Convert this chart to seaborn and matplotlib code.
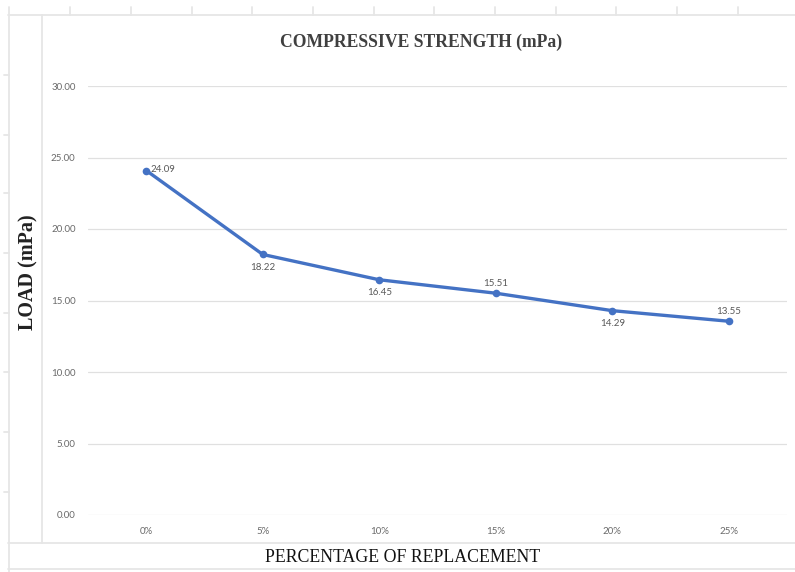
import matplotlib
matplotlib.use("Agg")
import matplotlib.pyplot as plt
from matplotlib.lines import Line2D
import seaborn as sns
import pandas as pd

# Data
replacement = ["0%", "5%", "10%", "15%", "20%", "25%"]
strength = [24.09, 18.22, 16.45, 15.51, 14.29, 13.55]
label_side = ["right", "below", "below", "above", "below", "above"]
y_ticks = [0, 5, 10, 15, 20, 25, 30]

df = pd.DataFrame({"replacement": replacement, "strength": strength})

sns.set_theme(style="white")
plt.rcParams["font.family"] = ["Lato", "DejaVu Sans"]

W, H = 795, 572
fig = plt.figure(figsize=(W / 100, H / 100), dpi=100)
fig.patch.set_facecolor("white")

# sheet grid behind the chart
grid_c = "#e6e6e6"
def fline(x0, y0, x1, y1, lw=1.3):
    fig.add_artist(Line2D([x0 / W, x1 / W], [1 - y0 / H, 1 - y1 / H],
                          color=grid_c, lw=lw, transform=fig.transFigure, zorder=0))

fline(8, 15, 795, 15)
for xt in [70, 131, 192, 252, 313, 374, 434, 495, 556, 616, 677, 738]:
    fline(xt, 7, xt, 15)
fline(9, 7, 9, 572)
fline(42, 15, 42, 543)
fline(8, 543, 795, 543)
fline(8, 569, 795, 569)
for yt in [75, 135, 193, 253, 313, 372, 432, 492]:
    fline(4, yt, 9, yt)

ax = fig.add_axes([88 / W, 1 - 515 / H, 699 / W, 429 / H])
ax.set_facecolor("none")

sns.lineplot(data=df, x="replacement", y="strength", ax=ax, color="#4472C4",
             linewidth=2.4, marker="o", markersize=5.5, markeredgewidth=0,
             sort=False)

ax.set_xlim(-0.5, len(replacement) - 0.5)
ax.set_ylim(0, 30)
ax.set_yticks(y_ticks)
ax.set_yticklabels([f"{v:.2f}" for v in y_ticks])
ax.yaxis.grid(True, color="#e0e0e0", lw=0.9)
ax.xaxis.grid(False)
for s in ax.spines.values():
    s.set_visible(False)
ax.tick_params(axis="both", length=0, labelsize=7, labelcolor="#6a6a6a")
ax.tick_params(axis="y", pad=9)
ax.tick_params(axis="x", pad=9)
ax.set_xlabel("")
ax.set_ylabel("")

# value labels
for i, (v, side) in enumerate(zip(strength, label_side)):
    if side == "right":
        ax.annotate(f"{v:.2f}", (i, v), xytext=(3, 1), textcoords="offset points",
                    ha="left", va="center", fontsize=7, color="#595959")
    elif side == "below":
        ax.annotate(f"{v:.2f}", (i, v), xytext=(0, -6), textcoords="offset points",
                    ha="center", va="top", fontsize=7, color="#595959")
    else:
        ax.annotate(f"{v:.2f}", (i, v), xytext=(0, 3.5), textcoords="offset points",
                    ha="center", va="bottom", fontsize=7, color="#595959")

serif = ["Liberation Serif", "DejaVu Serif"]
fig.text(421 / W, 1 - 42 / H, "COMPRESSIVE STRENGTH (mPa)", ha="center", va="center",
         fontsize=12.7, fontweight="bold", color="#404040", family=serif)
fig.text(28 / W, 1 - 272 / H, "LOAD (mPa)", ha="center", va="center", rotation=90,
         fontsize=14.5, fontweight="bold", color="#222222", family=serif)
fig.text(403 / W, 1 - 557 / H, "PERCENTAGE OF REPLACEMENT", ha="center", va="center",
         fontsize=12.8, color="#111111", family=serif)

fig.savefig("out.png", dpi=100, facecolor="white")
